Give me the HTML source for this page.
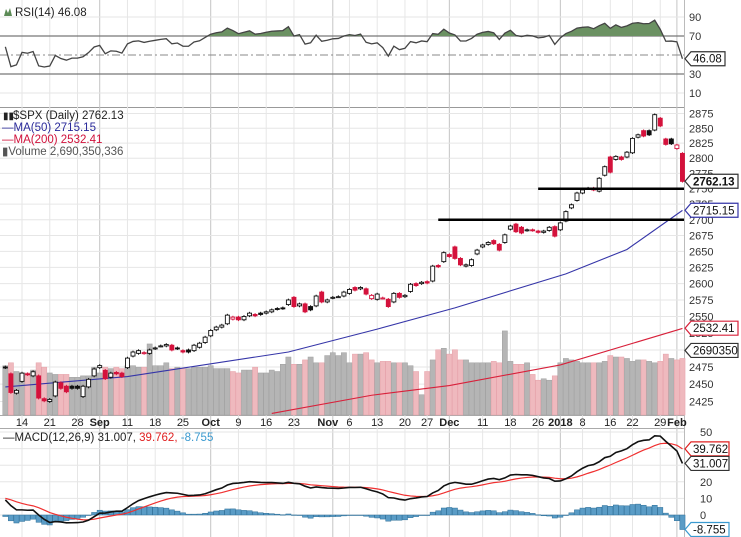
<!DOCTYPE html>
<html><head><meta charset="utf-8">
<style>
html,body{margin:0;padding:0;background:#fff;}
svg{display:block;font-family:"Liberation Sans",sans-serif;}
</style></head>
<body>
<svg id="chart" width="741" height="537" viewBox="0 0 741 537" xmlns="http://www.w3.org/2000/svg">
<rect x="0" y="0" width="741" height="537" fill="#fff"/>
<g id="grid"></g>
<g id="rsi"></g>
<g id="main"></g>
<g id="xaxis"></g>
<g id="macd"></g>
<g id="legend">
  <text x="15" y="16" font-size="11.5" fill="#222">RSI(14) 46.08</text>
  <path d="M4 16 L6 9 L8 13 L10 8 L12 16 Z" fill="#5b8a55"/>
  <text x="13" y="119" font-size="11.5" fill="#222">$SPX (Daily) 2762.13</text>
  <text x="3" y="119" font-size="10" fill="#222">▮▮</text>
  <text x="2" y="131" font-size="11.5" fill="#2a2a9a">—MA(50) 2715.15</text>
  <text x="2" y="143" font-size="11.5" fill="#d0103a">—MA(200) 2532.41</text>
  <text x="2" y="155" font-size="11.5" fill="#555">▮Volume 2,690,350,336</text>
  <text x="3" y="441" font-size="11.5"><tspan fill="#222">—MACD(12,26,9) 31.007, </tspan><tspan fill="#e02020">39.762, </tspan><tspan fill="#3a9ad0">-8.755</tspan></text>
</g>
</svg>
<script>
// ---------- data ----------
const history = [2429,2440,2437,2432,2433,2453,2437,2436,2435,2438,2439,2419,2440,2419,2423,2429,2432,2410,2425,2427,2425,2443,2447,2459,2459,2460,2473,2473,2472,2470,2477,2478,2475,2472,2470,2476,2478,2472,2476,2480,2475];
const closes = [
2474,2438,2441,
2466,2464,2468,2430,2426,
2428,2453,2444,2439,2444,
2444,2447,2457,2472,2477,
2458,2466,2465,2461,
2488,2497,2499,2496,2500,
2503,2506,2508,2500,2502,
2497,2497,2507,2510,2519,
2529,2534,2537,2552,2549,
2545,2550,2555,2551,2553,
2557,2560,2561,2562,2575,
2565,2569,2557,2560,2581,
2572,2575,2579,2580,2587,
2591,2590,2594,2584,2582,
2584,2578,2565,2585,2579,
2582,2599,2597,2602,
2601,2627,2626,2648,2642,
2639,2629,2629,2637,2652,
2660,2664,2662,2652,2676,
2690,2681,2679,2684,2683,
2680,2682,2688,2674,
2695,2713,2724,2743,
2748,2751,2748,2767,2786,
2777,2803,2798,2810,
2833,2839,2837,2839,2873,
2854,2823,2824,2822,2762];
const opens = [
2475,2465,2437,
2454,2465,2462,2462,2429,
2425,2433,2452,2447,2447,
2447,2432,2446,2462,2474,
2470,2460,2467,2466,
2474,2491,2495,2495,2495,
2502,2506,2506,2507,2503,
2499,2500,2499,2504,2511,
2521,2530,2534,2539,2546,
2549,2545,2551,2553,2555,
2555,2557,2562,2563,2568,
2579,2566,2569,2565,2566,
2587,2572,2578,2580,2581,
2585,2594,2592,2592,2577,
2576,2578,2576,2572,2585,
2580,2588,2600,2600,
2603,2604,2628,2634,2645,
2657,2639,2627,2628,2646,
2657,2661,2667,2661,2664,
2685,2693,2688,2683,2684,
2682,2680,2683,2689,
2684,2698,2719,2731,
2743,2751,2751,2746,2772,
2802,2798,2802,2802,
2809,2835,2846,2846,2847,
2867,2832,2832,2816,2808];
const volumes = [
3.4,3.6,3.0,
2.9,2.9,3.1,3.6,3.3,
2.9,2.8,2.8,2.8,2.6,
2.6,2.7,2.7,3.3,2.9,
3.3,3.2,3.3,3.2,
3.4,3.4,3.3,3.3,4.9,
3.4,3.4,3.6,3.2,3.3,
3.2,3.2,3.3,3.3,3.3,
3.4,3.2,3.2,3.2,3.0,
2.9,3.1,3.1,3.3,2.9,
2.9,3.1,3.0,3.5,4.0,
3.5,3.5,3.8,4.0,3.6,
3.6,4.1,4.3,4.1,4.3,
3.6,4.2,4.2,4.3,3.8,
3.6,3.7,3.7,3.6,3.6,
3.6,3.4,3.0,1.4,
3.0,3.8,4.5,4.6,4.2,
4.5,3.8,3.8,3.6,3.6,
3.6,3.6,3.7,3.6,5.8,
3.7,3.5,3.5,3.6,2.8,
2.4,2.5,2.4,2.7,
3.6,3.9,3.8,3.7,
3.6,3.6,3.6,3.6,3.7,
4.1,4.0,4.0,3.9,
3.7,3.8,3.8,3.7,3.6,
3.7,4.2,3.9,3.8,3.9];
const ma50Idx = [0,22,51,67,81,101,112,122];
const ma50Val = [2446,2461,2497,2531,2563,2615,2653,2715];
const ma200Idx = [48,66,80,100,122];
const ma200Val = [2408,2434,2448,2478,2532];
const priceTicks = [2425,2450,2475,2500,2525,2550,2575,2600,2625,2650,2675,2700,2725,2750,2775,2800,2825,2850,2875];
const rsiTicks = [90,70,30,10];
const macdTicks = [50,20,10,0];
const dateLabels = ["14","21","28","Sep","11","18","25","Oct","9","16","23","Nov","6","13","20","27","Dec","11","18","26","2018","8","16","22","29","Feb"];
const dateIdx = [3,8,13,17,22,27,32,37,42,47,52,59,62,67,72,76,80,86,91,96,100,104,109,113,118,121];
const supportLevels = [2750,2700];
const supportStart = [96,78];

// ---------- scales ----------
const NS = "http://www.w3.org/2000/svg";
const PR = 684;
function xb(k){ return 22 + 5.55*(k-3); }
const LT = Math.log(2875), LB = Math.log(2425);
function yp(p){ return 113.5 + (LT - Math.log(p))/(LT-LB)*288; }
function yr(v){ return 36 + (70-v)*0.95; }
function ym(v){ return 515 - v*1.66; }
function yv(v){ return 415 - v*14.5; }
function mk(tag, attrs, parent){ const e=document.createElementNS(NS,tag); for(const a in attrs) e.setAttribute(a, attrs[a]); parent.appendChild(e); return e; }

const grid=document.getElementById('grid'), rsiG=document.getElementById('rsi'), mainG=document.getElementById('main'), xG=document.getElementById('xaxis'), macdG=document.getElementById('macd');

let fr;
fr = mk('line',{x1:0,y1:107.5,x2:PR,y2:107.5,stroke:'#999'},grid);
 
fr = mk('line',{x1:0,y1:415.5,x2:PR,y2:415.5,stroke:'#aaa'},grid);
 
fr = mk('line',{x1:0,y1:428.5,x2:PR,y2:428.5,stroke:'#aaa'},grid);
 
fr = mk('line',{x1:PR+0.5,y1:0,x2:PR+0.5,y2:537,stroke:'#bbb'},grid);
 

dateLabels.forEach((t,i)=>{
  const x = xb(dateIdx[i]);
  const month = /[A-Za-z]|2018/.test(t);
  const gl = mk('line',{x1:x,y1:0,x2:x,y2:537,stroke: month?'#c4c4c4':'#e6e6e6'},grid);
   
  const tx = mk('text',{x: t==='Nov'? x-5 : x, y:426,'font-size':11,'text-anchor':'middle','font-weight':month?'bold':'normal',fill:'#222'},xG);
  tx.textContent=t;
   
});
[90,70,50,30,10].forEach(v=>{
  const strong = (v===70||v===30);
  const l = mk('line',{x1:0,y1:yr(v),x2:PR,y2:yr(v),stroke: strong?'#777':(v===50?'#888':'#e6e6e6'),'stroke-dasharray': v===50?'8,3,2,3':'none','stroke-width':strong?1.3:1},grid);
   
});
rsiTicks.forEach(v=>{
  const t=mk('text',{x:689,y:yr(v)+4,'font-size':11,fill:'#333'},rsiG); t.textContent=v;
   
});
priceTicks.forEach(v=>{
  const l=mk('line',{x1:0,y1:yp(v),x2:PR,y2:yp(v),stroke:'#e6e6e6'},grid);
   
  const t=mk('text',{x:689,y:yp(v)+4,'font-size':11,fill:'#333'},mainG); t.textContent=v;
   
});
[50,40,30,20,10,0].forEach(v=>{
  const l=mk('line',{x1:0,y1:ym(v),x2:PR,y2:ym(v),stroke:'#e6e6e6'},grid);
   
});
macdTicks.forEach(v=>{
  const t=mk('text',{x:700,y:ym(v)+4,'font-size':11,fill:'#333'},macdG); t.textContent=v;
   
});

// ---------- indicators ----------
const all = history.concat(closes);
const off = history.length;
const rsi = [];
let ag=0, al=0;
for(let i=1;i<all.length;i++){
  const d=all[i]-all[i-1], g=Math.max(d,0), lo=Math.max(-d,0);
  if(i<=14){ ag+=g/14; al+=lo/14; }
  else { ag=(ag*13+g)/14; al=(al*13+lo)/14; }
  if(i>=off) rsi.push(100 - 100/(1+ag/(al||1e-9)));
}
let e12=all[0], e26=all[0], sig=null;
const macd=[], signal=[];
for(let i=0;i<all.length;i++){
  e12 = e12 + (all[i]-e12)*2/13;
  e26 = e26 + (all[i]-e26)*2/27;
  const m=e12-e26;
  sig = sig===null? m : sig + (m-sig)*2/10;
  if(i>=off){ macd.push(m); signal.push(sig); }
}

const rsiPts = rsi.map((v,k)=>[xb(k),yr(v)]);
const cp = mk('clipPath',{id:'rsiClip'},rsiG);
mk('rect',{x:0,y:0,width:PR,height:yr(70)},cp);
const area = mk('path',{d:'M'+xb(0)+','+yr(70)+' '+rsiPts.map(p=>'L'+p[0]+','+p[1]).join(' ')+' L'+xb(rsi.length-1)+','+yr(70)+'Z',fill:'#6b9162','clip-path':'url(#rsiClip)'},rsiG);
 
const rl = mk('polyline',{points:rsiPts.map(p=>p.join(',')).join(' '),fill:'none',stroke:'#444','stroke-width':1.3},rsiG);
 

volumes.forEach((v,k)=>{
  const up = k===0 || closes[k]>=closes[k-1];
  const r=mk('rect',{x:xb(k)-2.6,y:yv(v),width:5.2,height:415-yv(v),fill: up?'#b5b5b5':'#efb9be',stroke: up?'#a0a0a0':'#e5a0a8','stroke-width':0.5},mainG);
   
});
function maLine(idx,vals,color,name){
  const l=mk('polyline',{points:idx.map((k,i)=>xb(k)+','+yp(vals[i])).join(' '),fill:'none',stroke:color,'stroke-width':1.1},mainG);
   
}
const cpm = mk('clipPath',{id:'mainClip'},mainG);
mk('rect',{x:0,y:108,width:PR,height:307},cpm);
maLine(ma50Idx,ma50Val,'#3535a8','ma50-line');
const m200=mk('polyline',{points:ma200Idx.map((k,i)=>xb(k)+','+yp(ma200Val[i])).join(' '),fill:'none',stroke:'#d8203a','stroke-width':1.1,'clip-path':'url(#mainClip)'},mainG);
 

closes.forEach((c,k)=>{
  const o=opens[k];
  const red = k>0 && c<closes[k-1];
  const col = red?'#d4123c':'#111';
  const x=xb(k);
  const hi=Math.max(o,c)+2, lo=Math.min(o,c)-2;
  const g=mk('g',{},mainG);
   
  mk('line',{x1:x,y1:yp(hi),x2:x,y2:yp(lo),stroke:col,'stroke-width':1},g);
  const top=yp(Math.max(o,c)), bot=yp(Math.min(o,c));
  mk('rect',{x:x-2,y:top,width:4,height:Math.max(bot-top,1),fill: c<o?col:'#fff',stroke:col,'stroke-width':0.9},g);
});
supportLevels.forEach((v,i)=>{
  const l=mk('line',{x1:xb(supportStart[i]),y1:yp(v),x2:PR,y2:yp(v),stroke:'#000','stroke-width':2.5},mainG);
   
});

macd.forEach((m,k)=>{
  const h=m-signal[k];
  const y0=ym(0), y1=ym(h);
  const r=mk('rect',{x:xb(k)-2.6,y:Math.min(y0,y1),width:5.2,height:Math.max(Math.abs(y1-y0),0.5),fill:'#5a9cc6',stroke:'#2d6f98','stroke-width':0.5},macdG);
   
});
const sl=mk('polyline',{points:signal.map((v,k)=>xb(k)+','+ym(v)).join(' '),fill:'none',stroke:'#f03030','stroke-width':1.2},macdG);
 
const ml=mk('polyline',{points:macd.map((v,k)=>xb(k)+','+ym(v)).join(' '),fill:'none',stroke:'#111','stroke-width':1.6},macdG);
 

function box(y,text,stroke,bold,name,w){
  w = w||47;
  const g=mk('g',{},document.getElementById('legend'));
   
  mk('path',{d:`M${PR+1},${y} L${PR+7},${y-7} L${PR+7+w},${y-7} L${PR+7+w},${y+7} L${PR+7},${y+7} Z`,fill:'#fff',stroke:stroke,'stroke-width':1.2},g);
  const t=mk('text',{x:PR+9,y:y+4,'font-size':11.5,fill:'#111','font-weight':bold?'bold':'normal'},g);
  t.textContent=text;
}
box(yr(46.08),'46.08','#333',false,'rsi-value-box',34);
box(yp(2762.13),'2762.13','#333',true,'price-value-box');
box(yp(2715.15),'2715.15','#3535a8',false,'ma50-value-box');
box(yp(2532.41),'2532.41','#d8203a',false,'ma200-value-box');
box(yv(volumes[volumes.length-1])-8,'2690350','#333',false,'volume-value-box');
box(ym(signal[signal.length-1]),'39.762','#e02020',false,'signal-value-box',38);
box(ym(macd[macd.length-1]),'31.007','#333',false,'macd-value-box',38);
box(ym(macd[macd.length-1]-signal[signal.length-1]),'-8.755','#3a9ad0',false,'histogram-value-box',38);
</script>
</body></html>
